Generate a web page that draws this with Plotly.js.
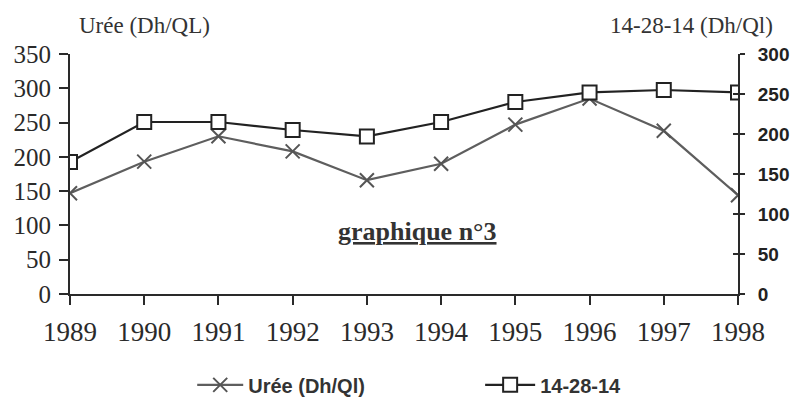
<!DOCTYPE html>
<html>
<head>
<meta charset="utf-8">
<script src="https://cdn.plot.ly/plotly-3.0.1.min.js"></script>
<style>
html,body{margin:0;padding:0;background:#fff;}
#chart{width:791px;height:403px;}
</style>
</head>
<body>
<div id="chart"></div>
<script>
const years = [1989, 1990, 1991, 1992, 1993, 1994, 1995, 1996, 1997, 1998];
const uree = [147, 193, 230, 208, 166, 190, 247, 285, 238, 144];
const npk = [165, 215, 215, 205, 197, 215, 240, 252, 255, 252];
const leftTicks = [0, 50, 100, 150, 200, 250, 300, 350];
const rightTicks = [0, 50, 100, 150, 200, 250, 300];
const yearLabels = ['1989','1990','1991','1992','1993','1994','1995','1996','1997','1998'];

const serif = 'Liberation Serif, Times New Roman, serif';
const sans = 'Liberation Sans, Arial, sans-serif';

const traces = [
  {
    x: years, y: uree, name: 'Urée (Dh/Ql)', type: 'scatter', mode: 'lines+markers',
    yaxis: 'y', legend: 'legend',
    line: {color: '#5e5e5e', width: 2.2},
    marker: {symbol: 'x-thin-open', size: 14, line: {color: '#555', width: 2}, color: '#555'}
  },
  {
    x: years, y: npk, name: '14-28-14', type: 'scatter', mode: 'lines+markers',
    yaxis: 'y2', legend: 'legend2',
    line: {color: '#222222', width: 2.2},
    marker: {symbol: 'square', size: 14, color: '#ffffff', line: {color: '#222', width: 2}}
  }
];

const layout = {
  width: 791, height: 403,
  margin: {l: 70, r: 53, t: 54, b: 109},
  paper_bgcolor: '#ffffff', plot_bgcolor: '#ffffff',
  showlegend: true,
  xaxis: {
    type: 'linear', range: [1989, 1998],
    tickvals: years, ticktext: yearLabels,
    showgrid: false, zeroline: false,
    showline: true, linecolor: '#2a2a2a', linewidth: 2,
    ticks: 'outside', ticklen: 9, tickwidth: 2, tickcolor: '#2a2a2a',
    ticklabelstandoff: 4,
    tickfont: {family: serif, size: 27, color: '#2a2a2a'}
  },
  yaxis: {
    range: [0, 350], tickvals: leftTicks,
    showgrid: false, zeroline: false,
    showline: true, linecolor: '#2a2a2a', linewidth: 2,
    ticks: 'outside', ticklen: 9, tickwidth: 2, tickcolor: '#2a2a2a',
    ticklabelstandoff: 3,
    tickfont: {family: serif, size: 25, color: '#2a2a2a'}
  },
  yaxis2: {
    range: [0, 300], tickvals: rightTicks, overlaying: 'y', side: 'right',
    showgrid: false, zeroline: false,
    showline: true, linecolor: '#2a2a2a', linewidth: 2,
    ticks: 'outside', ticklen: 5, tickwidth: 2, tickcolor: '#2a2a2a',
    ticklabelstandoff: 9,
    tickfont: {family: sans, size: 19, color: '#222', weight: 'bold'}
  },
  yaxis3: {
    range: [0, 300], tickvals: rightTicks, overlaying: 'y', side: 'right',
    showgrid: false, zeroline: false, showline: false,
    ticks: 'inside', ticklen: 5, tickwidth: 2, tickcolor: '#2a2a2a',
    showticklabels: false
  },
  legend: {
    orientation: 'h', xref: 'container', yref: 'container',
    x: 0.243, xanchor: 'left', y: 0.045, yanchor: 'middle',
    itemwidth: 46,
    font: {family: sans, size: 20, color: '#333', weight: 'bold'},
    bgcolor: 'rgba(0,0,0,0)'
  },
  legend2: {
    orientation: 'h', xref: 'container', yref: 'container',
    x: 0.607, xanchor: 'left', y: 0.045, yanchor: 'middle',
    itemwidth: 50,
    font: {family: sans, size: 20, color: '#333', weight: 'bold'},
    bgcolor: 'rgba(0,0,0,0)'
  },
  annotations: [
    {text: 'Urée (Dh/QL)', xref: 'paper', yref: 'paper', x: 0.112, y: 1.12,
     xanchor: 'center', yanchor: 'middle', showarrow: false,
     font: {family: serif, size: 23, color: '#333'}},
    {text: '14-28-14 (Dh/Ql)', xref: 'paper', yref: 'paper', x: 0.931, y: 1.12,
     xanchor: 'center', yanchor: 'middle', showarrow: false,
     font: {family: serif, size: 23, color: '#333'}},
    {text: '<u><b>graphique n°3</b></u>', xref: 'paper', yref: 'paper', x: 0.52, y: 0.26,
     xanchor: 'center', yanchor: 'middle', showarrow: false,
     font: {family: serif, size: 26, color: '#333'}}
  ]
};

// invisible helper trace so that yaxis3 (inner half of the cross ticks) is drawn
traces.push({x: [years[0]], y: [rightTicks[0]], yaxis: 'y3', type: 'scatter', mode: 'markers',
  marker: {opacity: 0}, showlegend: false, hoverinfo: 'skip'});

Plotly.newPlot('chart', traces, layout, {displayModeBar: false, staticPlot: true});
</script>
</body>
</html>
